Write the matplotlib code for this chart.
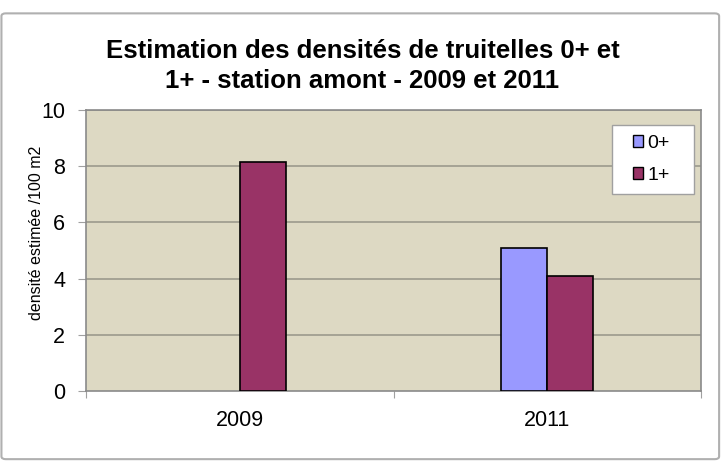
import matplotlib
matplotlib.use("Agg")
import matplotlib.pyplot as plt
from matplotlib.patches import FancyBboxPatch, Rectangle, Patch
import numpy as np

categories = ["2009", "2011"]
series_names = ["0+", "1+"]
values_0 = [0.0, 5.08]
values_1 = [8.16, 4.10]
colors = ["#9999FF", "#993366"]
yticks = [0, 2, 4, 6, 8, 10]
title_lines = ["Estimation des densités de truitelles 0+ et", "1+ - station amont - 2009 et 2011"]

plt.rcParams['font.family'] = ['Liberation Sans', 'DejaVu Sans']

fig = plt.figure(figsize=(7.22, 4.61), dpi=100)
fig.patch.set_facecolor('white')
frame = FancyBboxPatch((0.002, 0.004), 0.994, 0.967, boxstyle="round,pad=0,rounding_size=0.006",
                       transform=fig.transFigure, facecolor='white', edgecolor='#b0b0b0', lw=1.5,
                       zorder=-10)
fig.patches.append(frame)

ax = fig.add_axes([86/722, 70/461, 615/722, 281/461])
ax.set_zorder(1)
ax.set_facecolor('#DDD9C3')
x = np.arange(len(categories))
w = 0.15
bars0 = ax.bar(x - w/2, values_0, w, color=colors[0], edgecolor='black', lw=1.2, zorder=3)
bars1 = ax.bar(x + w/2, values_1, w, color=colors[1], edgecolor='black', lw=1.2, zorder=3)
for p in list(bars0) + list(bars1):
    if p.get_height() == 0:
        p.set_visible(False)
ax.set_xlim(-0.5, 1.5)
ax.set_ylim(0, 10)
ax.set_yticks(yticks)
ax.set_yticklabels([str(t) for t in yticks], fontsize=15.5)
ax.set_xticks([-0.5, 0.5, 1.5])
ax.set_xticklabels([])
ax.set_xticks(x, minor=True)
ax.set_xticklabels(categories, minor=True, fontsize=15.5)
ax.tick_params(axis='x', which='minor', length=0, pad=14)
ax.tick_params(axis='x', which='major', length=5, color='#a0a0a0', direction='out')
ax.tick_params(axis='y', length=6, color='#a0a0a0', direction='out', pad=9)
for yv in yticks[1:]:
    ax.axhline(yv, color='#9c9a8c', lw=1.2, zorder=0.5)
for s in ax.spines.values():
    s.set_color('#8a8a8a')
    s.set_linewidth(1.2)
ax.set_ylabel("densité estimée /100 m2", fontsize=11.5)
ax.yaxis.set_label_coords(-0.068, 0.562)

fig.text(0.502, 1 - 58/461, title_lines[0], ha='center', va='baseline', fontsize=18.5, fontweight='bold')
fig.text(0.502, 1 - 88/461, title_lines[1], ha='center', va='baseline', fontsize=18.5, fontweight='bold')

x0, x1 = (612 - 86) / 615, (694 - 86) / 615
y0, y1 = (391 - 194) / 281, (391 - 125) / 281
ax.add_patch(Rectangle((x0, y0), x1 - x0, y1 - y0, transform=ax.transAxes, facecolor='white',
                       edgecolor='#a0a0a0', lw=1.0, zorder=4))
handles = [Patch(facecolor=c, edgecolor='black', lw=1.0) for c in colors]
leg = ax.legend(handles, series_names, loc='center',
                bbox_to_anchor=((x0 + x1) / 2 - 0.003, (y0 + y1) / 2), fontsize=14,
                frameon=False, handlelength=0.55, handleheight=0.55,
                handletextpad=0.2, borderpad=0, labelspacing=0.75, borderaxespad=0)
leg.set_zorder(5)

fig.savefig("out.png", dpi=100)
